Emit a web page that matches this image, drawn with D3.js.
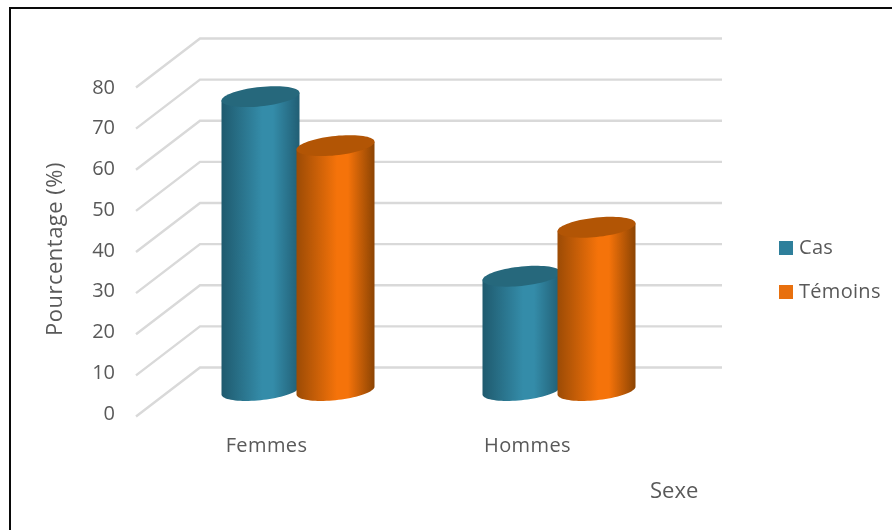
<!DOCTYPE html>
<html><head><meta charset="utf-8">
<script src="https://cdn.jsdelivr.net/npm/d3@7"></script>
<style>html,body{margin:0;background:#fff}svg{display:block;filter:blur(0.4px)}text{font-family:"Open Sans",sans-serif;fill:#595959}</style>
</head><body><svg id="c" width="892" height="530"></svg>
<script>
const categories=["Femmes","Hommes"];
const seriesNames=["Cas","Témoins"];
const casValues=[72,28];
const temoinsValues=[60,40];
const yTicks=[0,10,20,30,40,50,60,70,80];
const colors={Cas:["#1f5a6e","#348ca9","#215e74","#26687c"],"Témoins":["#9c4b05","#f5730a","#8c4403","#b25505"]};
const legendColors=["#2e7f9b","#e8700e"];

const svg=d3.select("#c");
svg.append("rect").attr("x",10).attr("y",8).attr("width",900).attr("height",540).attr("fill","none").attr("stroke","#0a0a0a").attr("stroke-width",2);

const DX=64,DY=-49;
const y=d3.scaleLinear().domain([0,80]).range([416.5,87.5]);
const yLabel=d3.scaleLinear().domain([0,80]).range([419.5,93.5]);
const x0=d3.scaleBand().domain(categories).range([136,658]);
const x1=d3.scaleBand().domain(seriesNames).range([-75,75]);

const grid=svg.append("g");
yTicks.forEach(t=>{
  grid.append("path").attr("fill","none").attr("stroke","#d9d9d9").attr("stroke-width",2.4)
   .attr("d",d3.line()([[136,y(t)],[136+DX,y(t)+DY],[722,y(t)+DY]]));
});
svg.append("g").selectAll("text").data(yTicks).join("text")
  .attr("x",115).attr("y",d=>yLabel(d)).attr("text-anchor","end").attr("font-size",20).text(d=>d);

const defs=svg.append("defs");
seriesNames.forEach((s,i)=>{
  const g=defs.append("linearGradient").attr("id","g"+i);
  [[0,0],[.52,1],[.66,1],[1,2]].forEach(([o,k])=>g.append("stop").attr("offset",o).attr("stop-color",colors[s][k]));
});

const RX=39,SHEAR=-0.1,RY=9.7;
const pt=(cx,cy,t)=>[cx+RX*Math.cos(t),cy+RY*Math.sin(t)+SHEAR*RX*Math.cos(t)];
const line=d3.line();
function body(cx,top,base){
  const pts=[pt(cx,top,Math.PI)];
  d3.range(0,41).forEach(k=>pts.push(pt(cx,base,Math.PI-k*Math.PI/40)));
  pts.push(pt(cx,top,0));
  return line(pts)+"Z";
}
function cap(cx,top){
  return line(d3.range(0,73).map(k=>pt(cx,top,k*Math.PI/36)))+"Z";
}
const series=[casValues,temoinsValues];
const by=d3.scaleLinear().domain([0,80]).range([390.5,64]);
categories.forEach((c,ci)=>{
  seriesNames.forEach((s,si)=>{
    const v=series[si][ci];
    const cx=x0(c)+x0.bandwidth()/2+DX/2+x1(s)+x1.bandwidth()/2-0.5;
    const gp=svg.append("g");
    gp.append("path").attr("d",body(cx,by(v),by(0))).attr("fill",`url(#g${si})`);
    gp.append("path").attr("d",cap(cx,by(v))).attr("fill",colors[s][3]);
  });
});
svg.append("g").selectAll("text").data(categories).join("text")
 .attr("x",d=>x0(d)+x0.bandwidth()/2).attr("y",452).attr("text-anchor","middle").attr("font-size",20).attr("letter-spacing",0.4).text(d=>d);
svg.append("text").attr("x",650).attr("y",498).attr("font-size",22).text("Sexe");
svg.append("text").attr("transform","translate(62,249) rotate(-90)").attr("text-anchor","middle").attr("font-size",22).attr("letter-spacing",0.5).text("Pourcentage (%)");
const leg=svg.append("g").selectAll("g").data(seriesNames).join("g").attr("transform",(d,i)=>`translate(779,${241+i*44})`);
leg.append("rect").attr("width",14).attr("height",14).attr("fill",(d,i)=>legendColors[i]);
leg.append("text").attr("x",20).attr("y",13).attr("font-size",20).attr("letter-spacing",0.3).text(d=>d);
</script></body></html>
